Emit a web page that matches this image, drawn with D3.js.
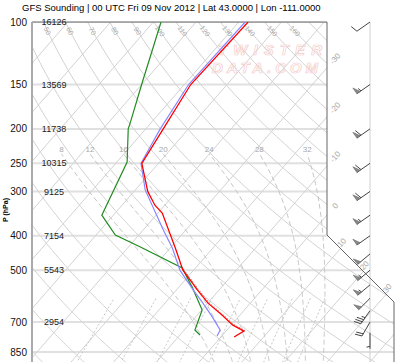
<!DOCTYPE html>
<html>
<head>
<meta charset="utf-8">
<script src="https://cdn.jsdelivr.net/npm/d3@7/dist/d3.min.js"></script>
<style>
  body { margin: 0; background: #fff; }
  svg { display: block; font-family: "Liberation Sans", Arial, sans-serif; }
</style>
</head>
<body>
<svg id="chart" width="400" height="362"></svg>
<script>
// pressure levels drawn as isobars, with their heights (m)
const isobarLevels = [100, 150, 200, 250, 300, 400, 500, 700, 850, 1000];
const heightLevels = [100, 150, 200, 250, 300, 400, 500, 700];
const heightLabels = ['16126', '13569', '11738', '10315', '9125', '7154', '5543', '2954'];

// temperature trace (red)
const tempP = [100, 150, 200, 250, 300, 328, 345, 433, 500, 568, 619, 669, 714, 742, 771];
const tempT = [-57.8, -58.5, -55.9, -53.9, -46.8, -42.3, -39.0, -28.8, -22.5, -15.1, -9.9, -4.2, 0.4, 4.2, 3.1];

// second trace (blue)
const blueP = [100, 150, 200, 250, 297, 385, 433, 500, 568, 619, 677, 737, 766];
const blueT = [-58.5, -59.0, -56.6, -54.1, -47.7, -35.3, -29.5, -23.2, -16.1, -11.1, -6.1, -1.6, -1.1];

// dewpoint trace (green)
const dewP = [100, 150, 192, 200, 248, 350, 398, 430, 493, 558, 647, 737, 761];
const dewT = [-78.2, -70.0, -64.9, -64.1, -57.6, -52.7, -45.5, -37.2, -23.1, -16.9, -9.9, -7.5, -5.3];

// winds (deg, kt)
const windP = [100, 150, 200, 250, 300, 350, 400, 450, 500, 550, 600, 650, 700, 750];
const windDir = [235, 235, 235, 235, 235, 235, 235, 230, 230, 230, 225, 215, 210, 180];
const windSpd = [10, 55, 60, 60, 60, 55, 50, 50, 55, 55, 50, 35, 20, 5];

// background line sets
const isotherms = d3.range(-140, 60, 10);
const dryAdiabats = d3.range(-40, 190, 10);
const moistAdiabats = [8, 12, 16, 20, 24, 28, 32];
const mixingRatios = [0.4, 1, 2, 3, 5, 8, 12, 16, 20];
const topThetaLabels = d3.range(50, 170, 10);
const sideThetaLabels = d3.range(-30, 50, 10);
const edgeTempLabels = [-30, -20, -10, 0, 10, 20, 30];

const title = 'GFS Sounding | 00 UTC Fri 09 Nov 2012 | Lat 43.0000 | Lon -111.0000';

const svg = d3.select('#chart');
const plotLeft = 32, plotTop = 22, plotRight = 327;
const skew = 0.87;

const y = d3.scaleLog().domain([100, 1000]).range([plotTop, 377.1]);
const x = d3.scaleLinear().domain([-40, 50]).range([186 - 40 * 4.27, 186 + 50 * 4.27]);

function sx(t, p) {
  return x(t) + skew * (y(1000) - y(p));
}

// thermodynamics for background curves
function dryT(theta, p) {
  return (theta + 273.15) * Math.pow(p / 1000, 0.2857) - 273.15;
}
function satVap(t) {
  return 6.112 * Math.exp(17.67 * t / (t + 243.5));
}
function lapse(t, p) {
  const Rd = 287.04, Cp = 1005.7, Lv = 2.501e6, eps = 0.622;
  const T = t + 273.15;
  const es = satVap(t);
  const rs = eps * es / (p - es);
  return (1 / p) * (Rd * T + Lv * rs) / (Cp + Lv * Lv * rs * eps / (Rd * T * T));
}
function moistCurve(tw, pTop) {
  const down = [];
  let tt = tw;
  for (let pp = 1000; pp <= 1050; pp += 5) {
    down.push({p: pp, t: tt});
    tt += 5 * lapse(tt, pp);
  }
  const up = [];
  let t = tw;
  for (let pp = 1000; pp >= pTop; pp -= 5) {
    up.push({p: pp, t: t});
    t -= 5 * lapse(t, pp);
  }
  return down.reverse().concat(up.slice(1));
}
function mixT(w, p) {
  const e = w * p / (622 + w);
  const l = Math.log(e / 6.112);
  return 243.5 * l / (17.67 - l);
}

const line = d3.line().x(d => sx(d.t, d.p)).y(d => y(d.p));

// plot clip
const clipPts = [[plotLeft, plotTop], [plotRight, plotTop], [plotRight, 235], [394, 302], [394, 400], [plotLeft, 400]];
svg.append('clipPath').attr('id', 'plot-clip')
  .append('polygon').attr('points', clipPts.map(d => d.join(',')).join(' '));

const grid = svg.append('g').attr('clip-path', 'url(#plot-clip)');

// isobars
grid.selectAll('.isobar')
  .data(isobarLevels)
  .enter()
  .append('line')
  .attr('x1', plotLeft).attr('x2', 400)
  .attr('y1', d => y(d)).attr('y2', d => y(d))
  .attr('stroke', '#e0e0e0').attr('stroke-width', 2);

// isotherms
grid.selectAll('.isotherm')
  .data(isotherms)
  .enter()
  .append('line')
  .attr('x1', d => sx(d, 1050)).attr('y1', y(1050))
  .attr('x2', d => sx(d, 100)).attr('y2', y(100))
  .attr('stroke', '#d2d2d2').attr('stroke-width', 1);

// dry adiabats
const pDry = d3.range(1050, 95, -10);
grid.selectAll('.dry')
  .data(dryAdiabats)
  .enter()
  .append('path')
  .attr('d', th => line(pDry.map(p => ({p: p, t: dryT(th, p)}))))
  .attr('fill', 'none').attr('stroke', '#d2d2d2').attr('stroke-width', 1);

// moist adiabats
const moistData = moistAdiabats.map(tw => moistCurve(tw, 235));
grid.selectAll('.moist')
  .data(moistData)
  .enter()
  .append('path')
  .attr('d', line)
  .attr('fill', 'none').attr('stroke', '#c4c4c4').attr('stroke-width', 1)
  .attr('stroke-dasharray', '5,3');

// mixing ratio lines
const pMix = d3.range(1050, 595, -10);
grid.selectAll('.mix')
  .data(mixingRatios)
  .enter()
  .append('path')
  .attr('d', w => line(pMix.map(p => ({p: p, t: mixT(w, p)}))))
  .attr('fill', 'none').attr('stroke', '#c4c4c4').attr('stroke-width', 1)
  .attr('stroke-dasharray', '2,2');

// wind barb column
svg.append('line')
  .attr('x1', 370).attr('x2', 370).attr('y1', plotTop).attr('y2', 362)
  .attr('stroke', '#d0d0d0').attr('stroke-width', 1);

// watermark
const wm = svg.append('g')
  .attr('fill', 'none').attr('stroke', '#f5cccc').attr('stroke-width', 0.7)
  .attr('font-style', 'italic').attr('font-weight', 'bold').attr('font-size', 15);
wm.append('text').attr('x', 218).attr('y', 55).attr('textLength', 104).text('TWISTER');
wm.append('text').attr('x', 212).attr('y', 73).attr('textLength', 106).text('DATA.COM');

// labels for dry adiabats along the top and the left edge
const labelG = svg.append('g').attr('fill', '#a8a8a8').attr('font-size', 7);
function dryAngle(th, p) {
  const p2 = p * 1.03;
  return Math.atan2(y(p2) - y(p), sx(dryT(th, p2), p2) - sx(dryT(th, p), p)) * 180 / Math.PI;
}
topThetaLabels.forEach(th => {
  const p = 106;
  const lx = sx(dryT(th, p), p), ly = y(p);
  labelG.append('text')
    .attr('transform', `translate(${lx},${ly}) rotate(${dryAngle(th, p)})`)
    .attr('text-anchor', 'middle').attr('dy', '0.35em')
    .text(th);
});
sideThetaLabels.forEach(th => {
  // find pressure where the adiabat meets the left edge
  let lo = 100, hi = 1050;
  for (let i = 0; i < 40; i++) {
    const mid = (lo + hi) / 2;
    if (sx(dryT(th, mid), mid) > plotLeft + 5) lo = mid; else hi = mid;
  }
  const p = lo;
  const ly = y(p);
  if (ly < 40 || ly > 362) return;
  labelG.append('text')
    .attr('transform', `translate(${plotLeft + 5},${ly}) rotate(${dryAngle(th, p)})`)
    .attr('text-anchor', 'middle').attr('dy', '0.35em')
    .text(th);
});

// isotherm labels along the right edge and the cut corner
const tAngle = -Math.atan(1 / skew) * 180 / Math.PI;
edgeTempLabels.forEach(t => {
  let lx, ly;
  const yEdge = y(1000) - (plotRight - x(t)) / skew;
  if (yEdge <= 235) {
    lx = plotRight + 8;
    ly = yEdge - 8 / skew;
  } else {
    ly = (x(t) + skew * y(1000) - plotRight + 235) / (1 + skew);
    lx = plotRight + (ly - 235) + 1;
    ly -= 6;
  }
  labelG.append('text')
    .attr('transform', `translate(${lx},${ly}) rotate(${tAngle})`)
    .attr('text-anchor', 'middle').attr('dy', '0.35em')
    .attr('font-size', 8)
    .text(t);
});

// moist adiabat labels
labelG.selectAll('.mlabel')
  .data(moistData)
  .enter()
  .append('text')
  .attr('x', d => sx(d[d.length - 1].t, d[d.length - 1].p))
  .attr('y', y(235) - 2)
  .attr('text-anchor', 'middle')
  .attr('font-size', 8)
  .text((d, i) => moistAdiabats[i]);

// frame
svg.append('path')
  .attr('d', `M${plotLeft},${plotTop}H${plotRight}V235L394,302V362`)
  .attr('fill', 'none').attr('stroke', '#666').attr('stroke-width', 1);
svg.append('line')
  .attr('x1', plotLeft).attr('x2', plotLeft).attr('y1', plotTop).attr('y2', 362)
  .attr('stroke', '#aaa').attr('stroke-width', 2);

// soundings
const traces = svg.append('g').attr('clip-path', 'url(#plot-clip)').attr('fill', 'none');
function series(ps, ts) {
  return ps.map((p, i) => ({p: p, t: ts[i]}));
}
traces.append('path').attr('d', line(series(dewP, dewT)))
  .attr('stroke', '#228b22').attr('stroke-width', 1.2);
traces.append('path').attr('d', line(series(blueP, blueT)))
  .attr('stroke', '#8888ff').attr('stroke-width', 1.2);
traces.append('path').attr('d', line(series(tempP, tempT)))
  .attr('stroke', '#ff0000').attr('stroke-width', 1.3);
// tick texture on the lower part of the temperature trace
const lowTemp = series(tempP, tempT).filter(d => d.p >= 480);
traces.append('path').attr('d', line(lowTemp))
  .attr('transform', 'translate(0.8,-0.8)')
  .attr('stroke', '#c02020').attr('stroke-width', 0.8).attr('stroke-dasharray', '0.8,2.2');

// wind barbs
const barbG = svg.append('g');
function drawBarb(x0, y0, dir, spd) {
  const a = dir * Math.PI / 180;
  const ux = Math.sin(a), uy = -Math.cos(a);
  const px = -uy, py = ux;
  const L = 16, bl = 7;
  const ex = x0 + ux * L, ey = y0 + uy * L;
  barbG.append('line')
    .attr('x1', x0).attr('y1', y0).attr('x2', ex).attr('y2', ey)
    .attr('stroke', '#444').attr('stroke-width', 1);
  let rest = Math.round(spd / 5) * 5, pos = 0;
  while (rest >= 50) {
    const b1 = [ex - ux * pos, ey - uy * pos];
    const b2 = [ex - ux * (pos + 4), ey - uy * (pos + 4)];
    const tip = [b1[0] + px * bl, b1[1] + py * bl];
    barbG.append('polygon')
      .attr('points', [b1, tip, b2].map(d => d.join(',')).join(' '))
      .attr('fill', '#888').attr('stroke', '#666').attr('stroke-width', 0.6);
    pos += 5;
    rest -= 50;
  }
  while (rest >= 10) {
    const bx = ex - ux * pos, by = ey - uy * pos;
    barbG.append('line')
      .attr('x1', bx).attr('y1', by)
      .attr('x2', bx + px * bl + ux * 2).attr('y2', by + py * bl + uy * 2)
      .attr('stroke', '#444').attr('stroke-width', 1);
    pos += 2.5;
    rest -= 10;
  }
  if (rest >= 5) {
    if (pos === 0) pos = 2.5;
    const bx = ex - ux * pos, by = ey - uy * pos;
    barbG.append('line')
      .attr('x1', bx).attr('y1', by)
      .attr('x2', bx + px * bl / 2 + ux).attr('y2', by + py * bl / 2 + uy)
      .attr('stroke', '#444').attr('stroke-width', 1);
  }
}
windP.forEach((p, i) => drawBarb(370, y(p), windDir[i], windSpd[i]));

// axis labels
svg.append('g').attr('font-size', 10).attr('fill', '#111')
  .selectAll('text')
  .data(isobarLevels.filter(d => d <= 850))
  .enter()
  .append('text')
  .attr('x', 27).attr('y', d => y(d)).attr('dy', '0.35em')
  .attr('text-anchor', 'end')
  .text(d => d);

svg.append('g').attr('font-size', 9).attr('fill', '#222')
  .selectAll('text')
  .data(heightLevels)
  .enter()
  .append('text')
  .attr('x', 54).attr('y', d => y(d)).attr('dy', '0.35em')
  .attr('text-anchor', 'middle')
  .text((d, i) => heightLabels[i]);

svg.append('text')
  .attr('transform', 'translate(8,210) rotate(-90)')
  .attr('text-anchor', 'middle').attr('font-size', 7).attr('font-weight', 'bold')
  .text('P (hPa)');

svg.append('text')
  .attr('x', 22).attr('y', 11)
  .attr('font-size', 9.5).attr('fill', '#000')
  .text(title);
</script>
</body>
</html>
